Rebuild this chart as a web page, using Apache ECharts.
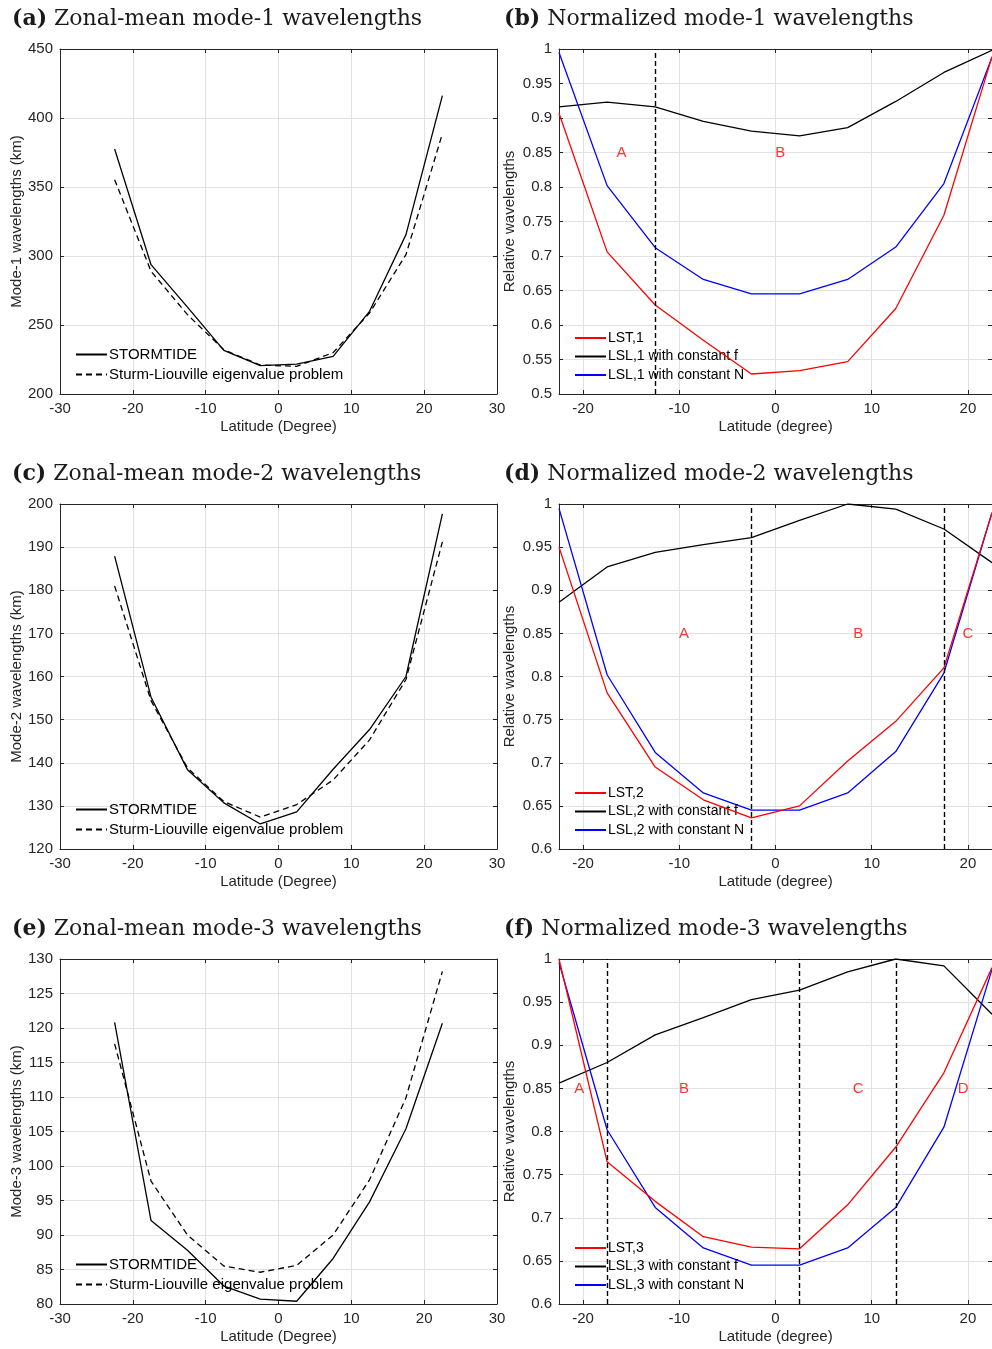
<!DOCTYPE html>
<html>
<head>
<meta charset="utf-8">
<script src="https://cdn.jsdelivr.net/npm/echarts@6/dist/echarts.min.js"></script>
<style>
  html, body { margin: 0; padding: 0; background: #fff; }
  #main { width: 992px; height: 1349px; }
</style>
</head>
<body>
<div id="main"></div>
<script>
// Latitude bands (degrees) at which wavelengths are evaluated
const latitudes = [-22.5, -17.5, -12.5, -7.5, -2.5, 2.5, 7.5, 12.5, 17.5, 22.5];

// Zonal-mean wavelengths (km)
const mode1Stormtide = [377.5, 293.7, 263.0, 231.6, 220.5, 221.7, 227.3, 259.9, 315.5, 416.2];
const mode1Sturm     = [355.3, 288.9, 257.5, 232.0, 221.0, 220.0, 230.0, 258.7, 301.0, 388.6];
const mode2Stormtide = [187.9, 155.2, 138.4, 130.7, 125.8, 128.6, 138.5, 147.7, 160.0, 197.7];
const mode2Sturm     = [181.0, 154.4, 138.8, 131.0, 127.4, 130.3, 136.0, 145.3, 159.3, 191.2];
const mode3Stormtide = [120.8, 92.1, 87.8, 82.6, 80.7, 80.4, 86.6, 94.8, 105.4, 120.7];
const mode3Sturm     = [117.7, 97.8, 90.0, 85.5, 84.6, 85.6, 90.0, 98.0, 109.9, 128.2];

// Normalized (relative) wavelengths
const lst1       = [0.907, 0.706, 0.629, 0.578, 0.529, 0.534, 0.547, 0.624, 0.759, 0.989];
const lsl1ConstF = [0.916, 0.923, 0.916, 0.895, 0.881, 0.874, 0.886, 0.924, 0.966, 0.998];
const lsl1ConstN = [0.995, 0.802, 0.712, 0.666, 0.645, 0.645, 0.666, 0.713, 0.805, 0.988];

const lst2       = [0.950, 0.781, 0.695, 0.657, 0.636, 0.650, 0.702, 0.748, 0.810, 0.990];
const lsl2ConstF = [0.886, 0.927, 0.944, 0.953, 0.961, 0.981, 1.000, 0.994, 0.971, 0.932];
const lsl2ConstN = [0.995, 0.802, 0.712, 0.665, 0.645, 0.645, 0.665, 0.713, 0.804, 0.990];

const lst3       = [1.000, 0.765, 0.719, 0.678, 0.666, 0.664, 0.715, 0.782, 0.868, 0.990];
const lsl3ConstF = [0.856, 0.880, 0.912, 0.932, 0.953, 0.964, 0.985, 1.000, 0.992, 0.936];
const lsl3ConstN = [0.996, 0.802, 0.712, 0.665, 0.645, 0.645, 0.665, 0.712, 0.805, 0.988];

// Regime boundaries (latitude) and regime labels [lat, value, letter]
const bounds1 = [-12.5];
const bounds2 = [-2.5, 17.5];
const bounds3 = [-17.5, 2.5, 12.5];
const regions1 = [[-16, 0.85, 'A'], [0.5, 0.85, 'B']];
const regions2 = [[-9.5, 0.85, 'A'], [8.6, 0.85, 'B'], [20, 0.85, 'C']];
const regions3 = [[-20.4, 0.85, 'A'], [-9.5, 0.85, 'B'], [8.6, 0.85, 'C'], [19.5, 0.85, 'D']];

// Tick labels on the normalized panels
const latTicksNarrow = [-20, -10, 0, 10, 20];

const FRAME = '#262626';
const GRIDLINE = '#e2e2e2';
const SANS = '"Liberation Sans", Arial, Helvetica, sans-serif';
const SERIF = '"DejaVu Serif", "Liberation Serif", serif';

const pair = arr => latitudes.map((x, i) => [x, arr[i]]);

const grids = [], xAxes = [], yAxes = [], series = [], legends = [], graphics = [];

function addPanel(p) {
  const gi = grids.length;
  grids.push({ left: p.left, top: p.top, width: p.width, height: p.height, containLabel: false });

  const tick = () => {
    const t = { show: true, inside: true, length: 4, lineStyle: { color: FRAME } };
    if (p.xCustom) t.customValues = p.xCustom;
    return t;
  };
  const xBase = {
    gridIndex: gi, type: 'value', min: p.xMin, max: p.xMax,
    axisLine: { show: true, onZero: false, lineStyle: { color: FRAME, width: 1 } }
  };
  if (p.xInterval) xBase.interval = p.xInterval;

  const bottomX = Object.assign({}, xBase, {
    position: 'bottom', axisTick: tick(),
    name: p.xName, nameLocation: 'middle', nameGap: 25,
    nameTextStyle: { fontFamily: SANS, fontSize: 15, color: FRAME },
    axisLabel: Object.assign({ fontFamily: SANS, fontSize: 15, color: FRAME, margin: 7 },
      p.xCustom ? { customValues: p.xCustom } : {}),
    splitLine: { show: true, lineStyle: { color: GRIDLINE, width: 1 } }
  });
  const topX = Object.assign({}, xBase, {
    position: 'top', axisTick: tick(),
    axisLabel: { show: false }, splitLine: { show: false }
  });
  const xi = xAxes.length;
  xAxes.push(bottomX, topX);

  const yBase = {
    gridIndex: gi, type: 'value', min: p.yMin, max: p.yMax, interval: p.yInterval,
    axisLine: { show: true, onZero: false, lineStyle: { color: FRAME, width: 1 } },
    axisTick: { show: true, inside: true, length: 4, lineStyle: { color: FRAME } }
  };
  const leftY = Object.assign({}, yBase, {
    position: 'left',
    name: p.yName, nameLocation: 'middle', nameGap: p.yNameGap,
    nameTextStyle: { fontFamily: SANS, fontSize: 15, color: FRAME },
    axisLabel: { fontFamily: SANS, fontSize: 15, color: FRAME, margin: 7 },
    splitLine: { show: true, lineStyle: { color: GRIDLINE, width: 1 } }
  });
  const rightY = Object.assign({}, yBase, {
    position: 'right', axisLabel: { show: false }, splitLine: { show: false }
  });
  const yi = yAxes.length;
  yAxes.push(leftY, rightY);

  p.lines.forEach(l => {
    series.push({
      type: 'line', name: l.name, xAxisIndex: xi, yAxisIndex: yi,
      data: pair(l.data), symbol: 'none', silent: true,
      lineStyle: { color: l.color, width: 1.3, type: l.dash ? [6, 4] : 'solid' },
      itemStyle: { color: l.color }, z: l.z || 3
    });
  });

  if (p.bounds) {
    series.push({
      type: 'line', name: 'bounds' + gi, xAxisIndex: xi, yAxisIndex: yi, data: [], silent: true,
      markLine: {
        silent: true, symbol: 'none', label: { show: false },
        lineStyle: { color: '#000', width: 1.4, type: [5, 3] },
        data: p.bounds.map(b => ({ xAxis: b }))
      }
    });
  }
  if (p.regions) {
    series.push({
      type: 'scatter', name: 'regions' + gi, xAxisIndex: xi, yAxisIndex: yi, silent: true,
      symbolSize: 1, itemStyle: { color: 'rgba(0,0,0,0)' },
      data: p.regions.map(r => ({ name: r[2], value: [r[0], r[1]] })),
      label: { show: true, position: 'inside', formatter: '{b}', color: '#ff0000', fontFamily: SANS, fontSize: 15 }
    });
  }

  legends.push({
    data: p.lines.map(l => l.name), orient: 'vertical',
    left: p.legendLeft, top: p.legendTop, itemWidth: 31, itemHeight: p.legendItemH, itemGap: p.legendGap,
    padding: 0, selectedMode: false,
    itemStyle: { opacity: 0 },
    textStyle: { fontFamily: SANS, fontSize: p.legendFont, color: '#000', padding: [0, 0, 0, -3] }
  });

  graphics.push({
    type: 'text', x: p.titleX, y: p.titleY,
    style: {
      text: '{b|' + p.tag + '} ' + p.title,
      rich: { b: { font: 'bold 22px ' + SERIF, fill: '#1a1a1a' } },
      font: '22px ' + SERIF, fill: '#1a1a1a', verticalAlign: 'middle', textVerticalAlign: 'middle'
    }
  });
}

const rows = [49, 504, 959];
const leftData = [
  { tag: '(a)', title: 'Zonal-mean mode-1 wavelengths', yName: 'Mode-1 wavelengths (km)', yMin: 200, yMax: 450, yInterval: 50, st: mode1Stormtide, sl: mode1Sturm },
  { tag: '(c)', title: 'Zonal-mean mode-2 wavelengths', yName: 'Mode-2 wavelengths (km)', yMin: 120, yMax: 200, yInterval: 10, st: mode2Stormtide, sl: mode2Sturm },
  { tag: '(e)', title: 'Zonal-mean mode-3 wavelengths', yName: 'Mode-3 wavelengths (km)', yMin: 80, yMax: 130, yInterval: 5, st: mode3Stormtide, sl: mode3Sturm }
];
const rightData = [
  { tag: '(b)', title: 'Normalized mode-1 wavelengths', yMin: 0.5, n: 1, lst: lst1, f: lsl1ConstF, N: lsl1ConstN, bounds: bounds1, regions: regions1 },
  { tag: '(d)', title: 'Normalized mode-2 wavelengths', yMin: 0.6, n: 2, lst: lst2, f: lsl2ConstF, N: lsl2ConstN, bounds: bounds2, regions: regions2 },
  { tag: '(f)', title: 'Normalized mode-3 wavelengths', yMin: 0.6, n: 3, lst: lst3, f: lsl3ConstF, N: lsl3ConstN, bounds: bounds3, regions: regions3 }
];

rows.forEach((top, r) => {
  const L = leftData[r];
  addPanel({
    left: 60, top: top, width: 437, height: 345,
    xMin: -30, xMax: 30, xInterval: 10, xName: 'Latitude (Degree)',
    yMin: L.yMin, yMax: L.yMax, yInterval: L.yInterval, yName: L.yName, yNameGap: 35,
    lines: [
      { name: 'STORMTIDE', data: L.st, color: '#000' },
      { name: 'Sturm-Liouville eigenvalue problem', data: L.sl, color: '#000', dash: true }
    ],
    legendLeft: 75, legendTop: top + 298, legendItemH: 14, legendGap: 5, legendFont: 15,
    tag: L.tag, title: L.title, titleX: 12, titleY: top - 30
  });
  const R = rightData[r];
  addPanel({
    left: 559, top: top, width: 433, height: 345,
    xMin: -22.5, xMax: 22.5, xCustom: latTicksNarrow, xName: 'Latitude (degree)',
    yMin: R.yMin, yMax: 1, yInterval: 0.05, yName: 'Relative wavelengths', yNameGap: 42,
    lines: [
      { name: 'LST,' + R.n, data: R.lst, color: '#ff0000', z: 4 },
      { name: 'LSL,' + R.n + ' with constant f', data: R.f, color: '#000' },
      { name: 'LSL,' + R.n + ' with constant N', data: R.N, color: '#0000ff' }
    ],
    bounds: R.bounds, regions: R.regions,
    legendLeft: 574, legendTop: top + 282, legendItemH: 13, legendGap: 4.5, legendFont: 14,
    tag: R.tag, title: R.title, titleX: 504, titleY: top - 30
  });
});

const chart = echarts.init(document.getElementById('main'), null, { renderer: 'canvas' });
chart.setOption({
  animation: false,
  backgroundColor: '#fff',
  grid: grids, xAxis: xAxes, yAxis: yAxes, series: series, legend: legends,
  graphic: graphics
});
</script>
</body>
</html>
